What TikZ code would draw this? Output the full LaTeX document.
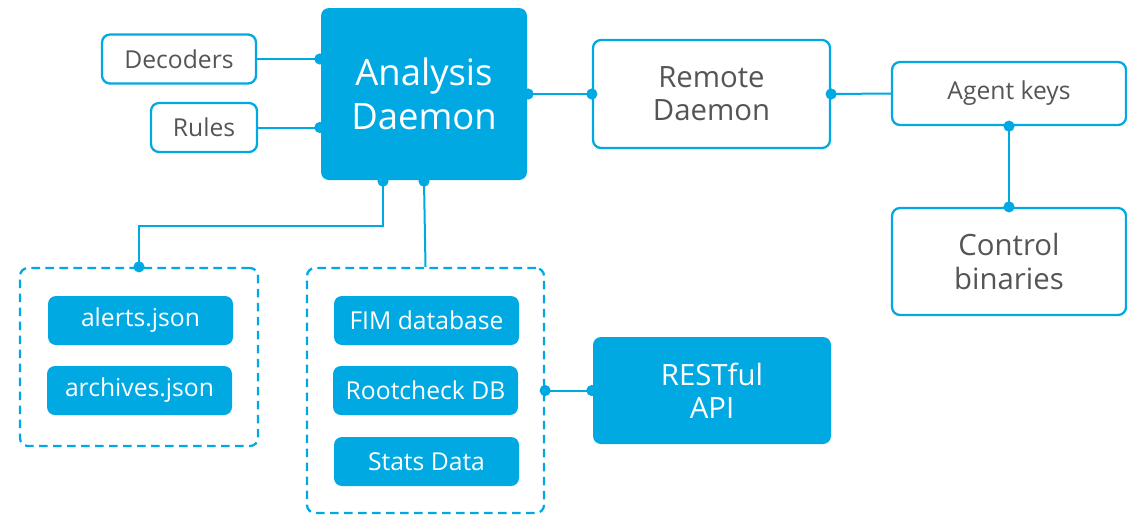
\documentclass[tikz,border=0pt]{standalone}
\usepackage{fontspec}
\setmainfont{Open Sans}
\definecolor{wblue}{HTML}{00A9E2}
\definecolor{wgray}{HTML}{555555}
\begin{document}
\begin{tikzpicture}[x=0.75pt,y=-0.75pt,
 base/.style={rounded corners=6pt, line width=1.7pt, align=center, inner sep=0pt},
 wbox/.style={base, draw=wblue, fill=white, text=wgray},
 fbox/.style={base, fill=wblue, text=white},
 dbox/.style={base, draw=wblue, dash pattern=on 6.5pt off 4pt},
 conn/.style={draw=wblue, line width=1.5pt},
 big/.style={font=\fontsize{27.3}{33}\selectfont},
 mid/.style={font=\fontsize{22}{25}\selectfont},
 small/.style={font=\fontsize{18.5}{20}\selectfont},
 ]
\useasboundingbox (0,0) rectangle (1127,515);
% main nodes
\node[fbox, big, minimum width=154.5pt, minimum height=129pt] (ad) at (424,94) {Analysis\\Daemon};
\node[wbox, small, minimum width=115.5pt, minimum height=36.75pt] (dec) at (179,59) {Decoders};
\node[wbox, small, minimum width=79.5pt, minimum height=36.75pt] (rules) at (204,127.5) {Rules};
\node[wbox, mid, minimum width=177.75pt, minimum height=81pt] (rem) at (711.5,94) {Remote\\Daemon};
\node[wbox, small, minimum width=175.5pt, minimum height=47.25pt] (agent) at (1009,93.5) {Agent keys};
\node[wbox, mid, minimum width=175.5pt, minimum height=80.25pt] (ctrl) at (1009,261.5) {Control\\binaries};
% dashed groups
\node[dbox, minimum width=178.5pt, minimum height=133.5pt] (g1) at (139,357) {};
\node[dbox, minimum width=177.75pt, minimum height=183.75pt] (g2) at (425.5,390.5) {};
\node[fbox, small, minimum width=138.75pt, minimum height=36.75pt] (alerts) at (140.5,320.5) {alerts.json};
\node[fbox, small, minimum width=138.75pt, minimum height=36.75pt] (arch) at (139.5,390.5) {archives.json};
\node[fbox, small, minimum width=138.75pt, minimum height=36.75pt] (fim) at (426.5,320.5) {FIM database};
\node[fbox, small, minimum width=138.75pt, minimum height=36.75pt] (root) at (425.5,390.5) {Rootcheck DB};
\node[fbox, small, minimum width=138.75pt, minimum height=36.75pt] (stats) at (426.5,461.5) {Stats Data};
\node[fbox, mid, minimum width=178.5pt, minimum height=80.25pt] (rest) at (712,390.5) {RESTful\\API};
% connectors
\coordinate (adb1) at ([xshift=-30.75pt]ad.south);
\draw[conn] (dec.east) -- (dec.east -| ad.west);
\draw[conn] (rules.east) -- (rules.east -| ad.west);
\draw[conn] (ad.east) -- (rem.west);
\draw[conn] (rem.east) -- (agent.west);
\draw[conn] (agent.south) -- (ctrl.north);
\draw[conn] (adb1) -- ++(0,45) -| (g1.north);
\draw[conn] (ad.south) -- (g2.north);
\draw[conn] (g2.east) -- (rest.west);
% dots
\foreach \p in {(dec.east -| ad.west),(rules.east -| ad.west),(ad.east),(rem.west),(rem.east),(agent.south),(ctrl.north),(adb1),(g1.north),(ad.south),(g2.east),(rest.west)}
  \fill[wblue] \p circle (4.2pt);
\end{tikzpicture}
\end{document}
